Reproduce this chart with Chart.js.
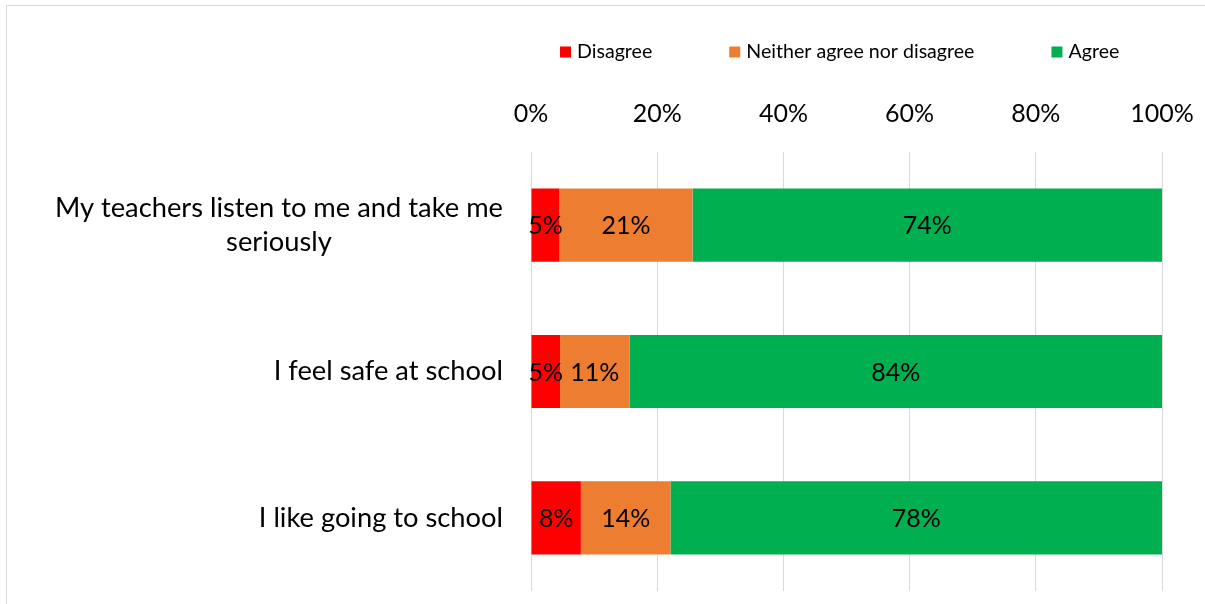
<!DOCTYPE html>
<html>
<head>
<meta charset="utf-8">
<script src="https://cdn.jsdelivr.net/npm/chart.js@4"></script>
<style>
    html, body { margin: 0; padding: 0; background: #fff; overflow: hidden; }
    #frame { position: absolute; left: 6px; top: 5px; width: 1400px; height: 800px; border: 1px solid #d9d9d9; }
    #wrap { position: absolute; left: 0; top: 0; width: 1205px; height: 604px; }
</style>
</head>
<body>
<div id="frame"></div>
<div id="wrap"><canvas id="chart"></canvas></div>
<script>
// data (percent of answers)
const categories = [['My teachers listen to me and take me', 'seriously'], 'I feel safe at school', 'I like going to school'];
const seriesNames = ['Disagree', 'Neither agree nor disagree', 'Agree'];
const seriesColors = ['#FF0000', '#ED7D31', '#00B050'];
const disagree = [4.5, 4.6, 7.9];
const neither = [21.1, 11.0, 14.2];
const agree = [74.4, 84.4, 77.9];
const xTicks = [0, 20, 40, 60, 80, 100];

const FONT = 'Lato';

// category labels: each wrapped label is centred on its widest line, right edge at the axis
const categoryLabels = {
    id: 'categoryLabels',
    afterDraw(chart) {
        const ctx = chart.ctx;
        const y = chart.scales.y;
        const right = chart.chartArea.left - 28;
        const lineH = 34;
        ctx.save();
        ctx.font = '27.3px ' + FONT;
        ctx.fillStyle = '#000';
        ctx.textAlign = 'center';
        ctx.textBaseline = 'middle';
        categories.forEach((label, i) => {
            const lines = Array.isArray(label) ? label : [label];
            const widest = Math.max(...lines.map(l => ctx.measureText(l).width));
            const cx = right - widest / 2;
            const cy = y.getPixelForValue(i) - (lines.length - 1) * lineH / 2;
            lines.forEach((l, k) => ctx.fillText(l, cx, cy + k * lineH));
        });
        ctx.restore();
    }
};

// value labels centred on each segment
const valueLabels = {
    id: 'valueLabels',
    afterDatasetsDraw(chart) {
        const ctx = chart.ctx;
        ctx.save();
        ctx.font = '25px ' + FONT;
        ctx.fillStyle = '#000';
        ctx.textAlign = 'center';
        ctx.textBaseline = 'middle';
        chart.data.datasets.forEach((ds, i) => {
            chart.getDatasetMeta(i).data.forEach((bar, j) => {
                const p = bar.getProps(['x', 'y', 'base'], true);
                ctx.fillText(Math.round(ds.data[j]) + '%', (p.x + p.base) / 2, p.y + 1);
            });
        });
        ctx.restore();
    }
};

// legend row above the axis
const topLegend = {
    id: 'topLegend',
    afterDraw(chart) {
        const ctx = chart.ctx;
        const box = 11, gap = 6, itemGap = 77;
        let x = chart.chartArea.left + 29;
        const cy = 52;
        ctx.save();
        ctx.font = '19.6px ' + FONT;
        ctx.textBaseline = 'middle';
        ctx.textAlign = 'left';
        chart.data.datasets.forEach(ds => {
            ctx.fillStyle = ds.backgroundColor;
            ctx.fillRect(x, cy - box / 2, box, box);
            x += box + gap;
            ctx.fillStyle = '#000';
            ctx.fillText(ds.label, x, cy);
            x += ctx.measureText(ds.label).width + itemGap;
        });
        ctx.restore();
    }
};

const seriesValues = [disagree, neither, agree];

new Chart(document.getElementById('chart'), {
    type: 'bar',
    data: {
        labels: categories,
        datasets: seriesNames.map((name, i) => ({
            label: name,
            data: seriesValues[i],
            backgroundColor: seriesColors[i],
            borderWidth: 0,
            barPercentage: 0.5,
            categoryPercentage: 1,
        })),
    },
    options: {
        indexAxis: 'y',
        responsive: true,
        maintainAspectRatio: false,
        animation: false,
        layout: { padding: { top: 0, right: 43, bottom: 13, left: 0 } },
        plugins: {
            legend: { display: false },
            tooltip: { enabled: false },
        },
        scales: {
            x: {
                position: 'top',
                stacked: true,
                min: 0,
                max: 100,
                afterBuildTicks: s => { s.ticks = xTicks.map(v => ({ value: v })); },
                afterFit: s => { s.height = 152; s.paddingLeft = 0; s.paddingRight = 0; },
                ticks: {
                    padding: 23,
                    color: '#000',
                    font: { family: FONT, size: 25 },
                    callback: v => v + '%',
                },
                grid: { color: '#D9D9D9', lineWidth: 1, drawTicks: false },
                border: { display: false },
            },
            y: {
                stacked: true,
                afterFit: s => { s.width = 531; },
                ticks: { display: false },
                grid: { display: false },
                border: { display: false },
            },
        },
    },
    plugins: [categoryLabels, valueLabels, topLegend],
});
</script>
</body>
</html>
